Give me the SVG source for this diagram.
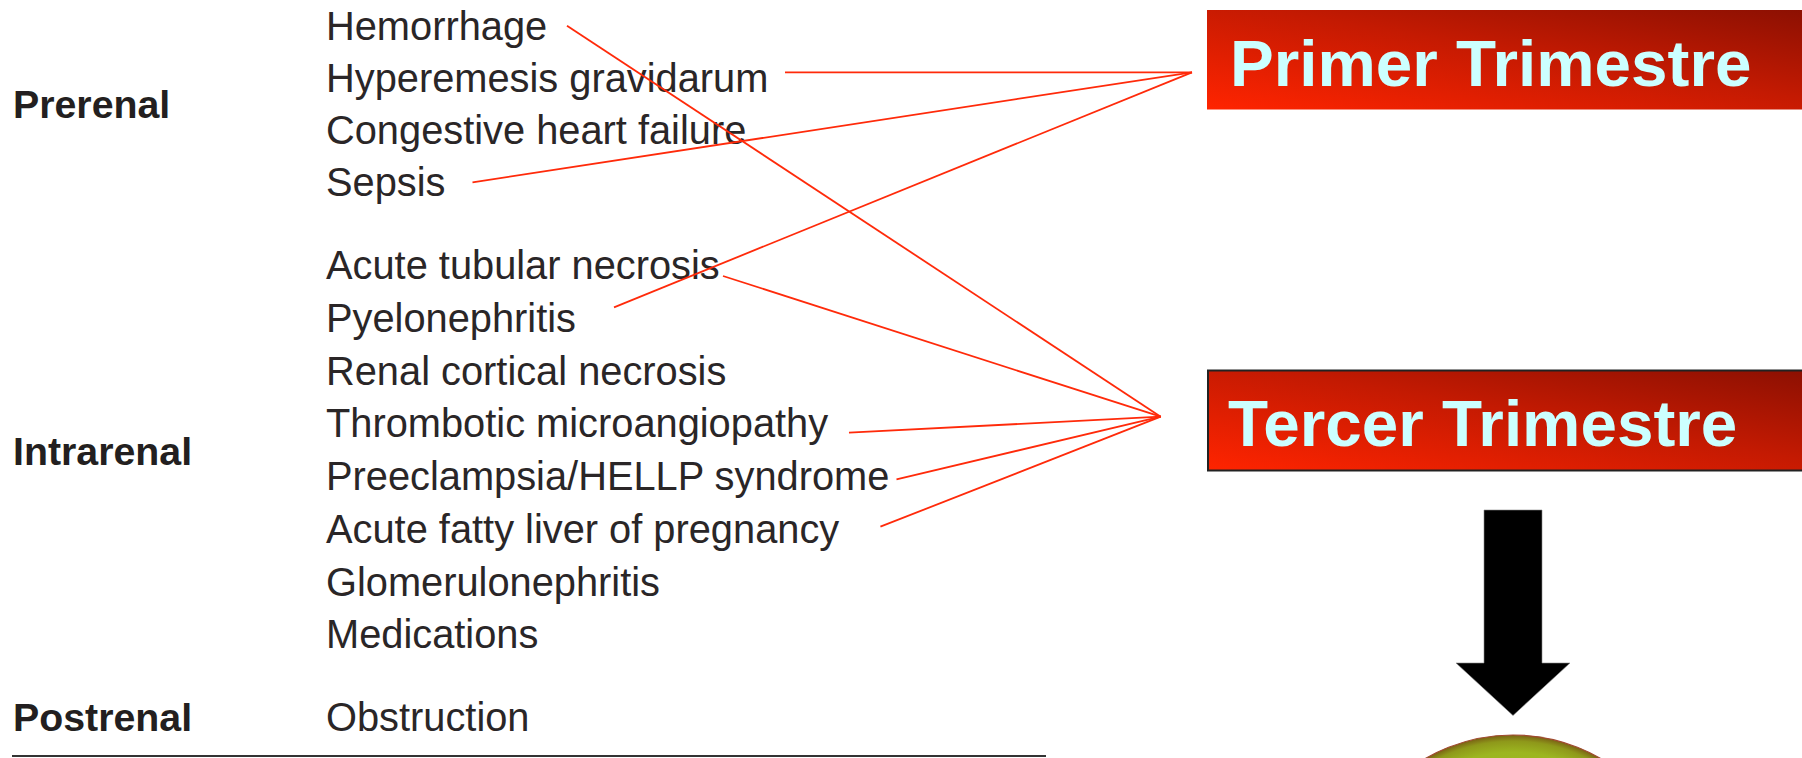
<svg xmlns="http://www.w3.org/2000/svg" width="1802" height="758" viewBox="0 0 1802 758">
  <defs>
    <style>
      .cat { font-family: "Liberation Sans", Arial, sans-serif; font-weight: bold; font-size: 39.3px; fill: #231f20; }
      .item { font-family: "Liberation Sans", Arial, sans-serif; font-size: 39.8px; fill: #2a2627; }
      .title { font-family: "Liberation Sans", Arial, sans-serif; font-weight: bold; font-size: 65.6px; fill: #ccffff; }
      .link { stroke: #ff2a0a; stroke-width: 1.8; fill: none; }
    </style>
    <linearGradient id="redBox" x1="0" y1="1" x2="1" y2="0">
      <stop offset="0" stop-color="#ff2400"/>
      <stop offset="0.55" stop-color="#c41a02"/>
      <stop offset="1" stop-color="#8c1002"/>
    </linearGradient>
    <radialGradient id="ball" cx="0.5" cy="0.5" r="0.5">
      <stop offset="0" stop-color="#a6c426"/>
      <stop offset="0.9" stop-color="#9cb620"/>
      <stop offset="0.965" stop-color="#8e981a"/>
      <stop offset="1" stop-color="#7a6214"/>
    </radialGradient>
  </defs>

  <rect width="1802" height="758" fill="#ffffff"/>

  <!-- category column -->
  <g id="categories">
    <text class="cat" x="13" y="118">Prerenal</text>
    <text class="cat" x="13" y="465">Intrarenal</text>
    <text class="cat" x="13" y="731">Postrenal</text>
  </g>

  <!-- causes -->
  <g id="prerenal-items">
    <text class="item" x="326" y="39.5">Hemorrhage</text>
    <text class="item" x="326" y="91.7">Hyperemesis gravidarum</text>
    <text class="item" x="326" y="143.9">Congestive heart failure</text>
    <text class="item" x="326" y="196.1">Sepsis</text>
  </g>
  <g id="intrarenal-items">
    <text class="item" x="326" y="279.3">Acute tubular necrosis</text>
    <text class="item" x="326" y="332">Pyelonephritis</text>
    <text class="item" x="326" y="384.7">Renal cortical necrosis</text>
    <text class="item" x="326" y="437.4">Thrombotic microangiopathy</text>
    <text class="item" x="326" y="490.1">Preeclampsia/HELLP syndrome</text>
    <text class="item" x="326" y="542.8">Acute fatty liver of pregnancy</text>
    <text class="item" x="326" y="595.5">Glomerulonephritis</text>
    <text class="item" x="326" y="648.2">Medications</text>
  </g>
  <g id="postrenal-items">
    <text class="item" x="326" y="731">Obstruction</text>
  </g>
  <line x1="12" y1="756" x2="1046" y2="756" stroke="#333" stroke-width="2"/>

  <!-- trimester labels -->
  <g id="primer-trimestre">
    <rect x="1207" y="10" width="600" height="99.5" fill="url(#redBox)"/>
    <text class="title" x="1230" y="86">Primer Trimestre</text>
  </g>
  <g id="tercer-trimestre">
    <rect x="1208" y="370.5" width="600" height="100" fill="url(#redBox)" stroke="#222" stroke-width="2"/>
    <text class="title" x="1228" y="446">Tercer Trimestre</text>
  </g>

  <!-- connectors -->
  <g id="connectors">
    <line class="link" x1="785" y1="72.3" x2="1192" y2="72.3"/>
    <line class="link" x1="472.5" y1="182.3" x2="1192" y2="72.3"/>
    <line class="link" x1="614" y1="307.3" x2="1192" y2="72.3"/>
    <line class="link" x1="567" y1="25.7" x2="1160.7" y2="416.7"/>
    <line class="link" x1="723" y1="276" x2="1160.7" y2="416.7"/>
    <line class="link" x1="849" y1="432.7" x2="1160.7" y2="416.7"/>
    <line class="link" x1="896.5" y1="479.3" x2="1160.7" y2="416.7"/>
    <line class="link" x1="880.4" y1="526.7" x2="1160.7" y2="416.7"/>
  </g>

  <!-- down arrow and result -->
  <g id="down-arrow">
    <polygon points="1484,510 1542,510 1542,663 1570,663 1513,715.5 1456,663 1484,663" fill="#000" stroke="#888" stroke-width="0.6"/>
  </g>
  <g id="result-ball">
    <circle cx="1513" cy="910" r="175" fill="url(#ball)" stroke="#a04a30" stroke-width="1.2"/>
  </g>
</svg>
